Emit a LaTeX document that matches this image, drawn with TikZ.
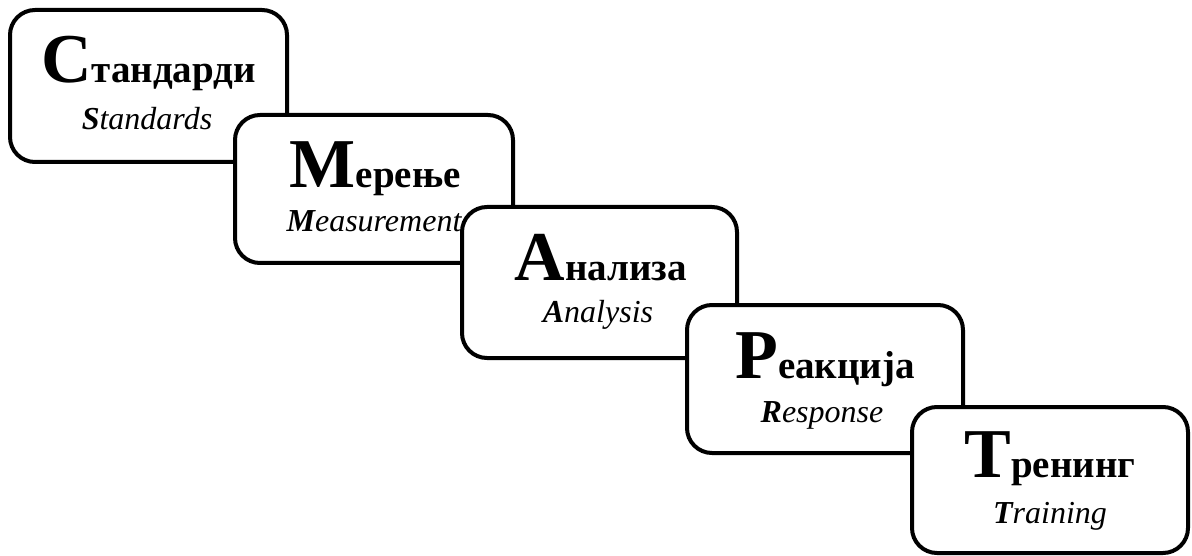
\documentclass[tikz,border=0pt]{standalone}
\usepackage{fontspec}
\setmainfont{Liberation Serif}
\newcommand\TitleTxt[2]{{\fontsize{70}{70}\selectfont #1}{\fontsize{39}{39}\selectfont #2}}
\newcommand\SubTxt[2]{\textbf{#1}#2}
\tikzset{
  stepbox/.style={draw, line width=4pt, rounded corners=25pt, fill=white, inner sep=0pt},
  ttl/.style={anchor=base, inner sep=0pt, font=\bfseries},
  sbt/.style={anchor=base, inner sep=0pt, font=\itshape\fontsize{32}{32}\selectfont},
}
\begin{document}
\begin{tikzpicture}[x=1pt,y=-1pt]
\useasboundingbox (0,0) rectangle (1192,556);
% box 1
\node[stepbox, minimum width=277pt, minimum height=152pt] (b1) at (148.5,86) {};
\node[ttl] (t1) at (148.5,83) {\TitleTxt{С}{тандарди}};
\node[sbt] (s1) at (147,130) {\SubTxt{S}{tandards}};
% box 2
\node[stepbox, minimum width=278pt, minimum height=148pt] (b2) at (374,189) {};
\node[ttl] (t2) at (375,188) {\TitleTxt{М}{ерење}};
\node[sbt] (s2) at (374,232) {\SubTxt{M}{easurement}};
% box 3
\node[stepbox, minimum width=275pt, minimum height=151pt] (b3) at (599.5,282.5) {};
\node[ttl] (t3) at (601,280) {\TitleTxt{А}{нализа}};
\node[sbt] (s3) at (598,323) {\SubTxt{A}{nalysis}};
% box 4
\node[stepbox, minimum width=276pt, minimum height=148pt] (b4) at (825,379) {};
\node[ttl] (t4) at (825,378) {\TitleTxt{Р}{еакција}};
\node[sbt] (s4) at (822,422) {\SubTxt{R}{esponse}};
% box 5
\node[stepbox, minimum width=276pt, minimum height=146pt] (b5) at (1050,480) {};
\node[ttl] (t5) at (1050,477) {\TitleTxt{Т}{ренинг}};
\node[sbt] (s5) at (1050,523) {\SubTxt{T}{raining}};
\end{tikzpicture}
\end{document}
